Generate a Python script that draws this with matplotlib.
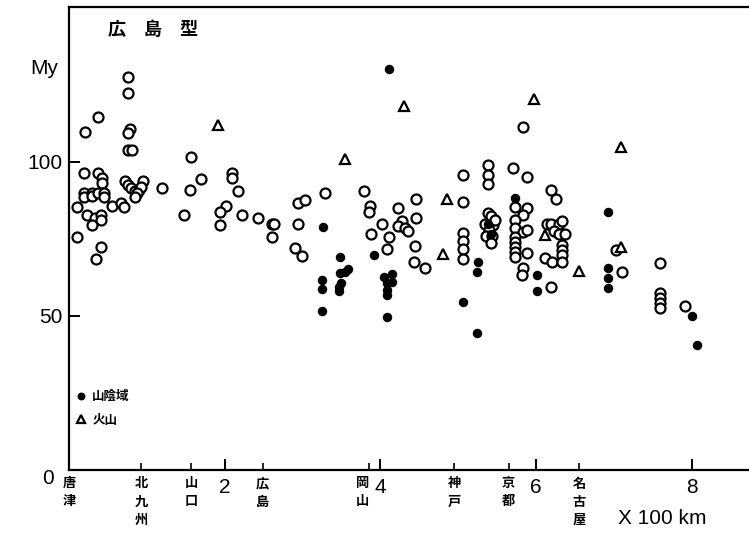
import matplotlib.pyplot as plt

plt.rcParams['font.family'] = ['Liberation Sans', 'Noto Sans CJK JP']

# open circles
open_x = [0.76, 0.76, 0.37, 0.21, 0.78, 0.76, 0.76, 0.81, 1.57,
          0.19, 0.37, 0.42, 0.42, 0.72, 0.95, 1.20, 1.56, 1.70,
          0.19, 0.19, 0.30, 0.30, 0.37, 0.45, 0.45,
          0.76, 0.80, 0.85, 0.90, 0.93, 0.88, 0.85,
          0.10, 0.55, 0.67, 0.71, 0.23, 0.33, 0.41, 0.41, 0.30, 0.10, 0.41, 0.35, 1.48,
          2.10, 2.10, 2.17, 2.02, 1.94, 1.94, 2.22, 2.43, 2.61, 2.63, 2.61,
          2.94, 3.03, 2.94, 2.90, 3.00, 3.29, 3.79, 3.87, 3.86, 4.02, 3.88, 4.11, 4.09,
          4.46, 4.23, 4.28, 4.23, 4.32, 4.36, 4.46, 4.45, 4.43, 4.58,
          5.06, 5.06, 5.06, 5.06, 5.06, 5.06,
          5.39, 5.39, 5.39,
          5.38, 5.42, 5.35, 5.45, 5.40, 5.36, 5.44, 5.42, 5.47,
          5.71, 5.84, 5.89, 6.20, 6.26,
          5.73, 5.89, 5.84, 5.73, 5.73, 5.84, 5.89, 5.73, 5.73, 5.73, 5.73, 5.73,
          5.89, 5.84, 5.82, 6.20, 6.12, 6.21,
          6.14, 6.19, 6.30, 6.34, 6.23, 6.30, 6.37, 6.34, 6.34, 6.34, 6.34,
          7.03, 7.11, 7.60, 7.60, 7.60, 7.60, 7.60, 7.92]
open_y = [127.6, 122.4, 114.6, 109.7, 110.7, 109.4, 103.9, 103.9, 101.6,
          96.4, 96.4, 94.8, 93.2, 93.8, 93.8, 91.6, 90.9, 94.5,
          90.0, 88.5, 90.0, 89.0, 90.0, 90.0, 88.5,
          92.5, 91.5, 90.5, 91.0, 92.0, 90.0, 88.6,
          85.4, 85.7, 86.7, 85.4, 82.8, 81.8, 82.8, 81.2, 79.5, 75.6, 72.4, 68.5, 82.8,
          96.4, 94.8, 90.6, 85.7, 83.8, 79.5, 82.8, 81.8, 79.9, 79.9, 75.6,
          86.7, 87.7, 79.9, 72.1, 69.5, 89.9, 90.6, 85.7, 83.8, 79.9, 76.6, 75.6, 71.8,
          88.0, 85.1, 80.8, 79.2, 78.6, 77.6, 81.8, 72.7, 67.5, 65.6,
          95.8, 87.0, 77.0, 74.4, 71.8, 68.5,
          99.0, 95.8, 92.9,
          83.5, 82.5, 80.0, 79.5, 78.0, 76.0, 76.0, 73.7, 81.0,
          98.1, 111.4, 95.1, 90.9, 88.0,
          85.4, 85.1, 82.8, 81.2, 78.6, 77.3, 77.9, 75.6, 74.0, 72.4, 70.8, 69.2,
          70.5, 65.6, 63.3, 59.4, 68.8, 67.5,
          80.0, 80.0, 80.0, 80.8, 77.5, 76.5, 76.5, 73.0, 71.4, 69.8, 67.5,
          71.4, 64.3, 67.2, 57.5, 55.8, 54.2, 52.6, 53.2]

# filled circles (山陰域)
san_x = [3.26, 3.48, 3.59, 3.55, 3.48, 3.50, 3.47, 3.47, 3.25, 3.25, 3.25,
         3.92, 4.05, 4.09, 4.09, 4.09, 4.15, 4.15, 4.09, 4.11,
         5.06, 5.26, 5.24, 5.24, 5.38, 5.42,
         5.73, 6.02, 6.02, 6.93, 6.93, 6.93, 6.93, 8.01, 8.07]
san_y = [78.9, 69.2, 65.3, 64.3, 64.0, 60.7, 59.4, 58.1, 61.7, 58.8, 51.6,
         69.8, 62.7, 60.7, 58.4, 56.8, 63.5, 61.0, 49.7, 130.2,
         54.5, 67.5, 64.3, 44.5, 80.0, 76.5,
         88.3, 63.3, 58.1, 83.8, 65.6, 62.3, 59.1, 50.0, 40.6]

# triangles (火山)
vol_x = [1.92, 3.55, 4.31, 4.86, 4.81, 5.98, 6.12, 6.56, 7.09, 7.10]
vol_y = [112.0, 101.0, 118.2, 88.0, 70.1, 120.5, 76.3, 64.6, 104.9, 72.4]

num_ticks = [2, 4, 6, 8]
cities = ['唐津', '北九州', '山口', '広島', '岡山', '神戸', '京都', '名古屋']
city_x = [0, 0.93, 1.57, 2.49, 3.86, 4.95, 5.65, 6.56]

fig = plt.figure(figsize=(7.49, 5.36), dpi=100)
ax = fig.add_axes([69/749, 66/536, 691/749, 463/536])

ax.plot(open_x, open_y, 'o', ms=7.2, mfc='white', mec='black', mew=1.6, ls='none')
ax.plot(san_x, san_y, 'o', ms=5.8, color='black', ls='none', label='山陰域')
ax.plot(vol_x, vol_y, '^', ms=6.5, mfc='white', mec='black', mew=1.6, ls='none', label='火山')

ax.set_xlim(0, 8.88)
ax.set_ylim(0, 150.3)

for s in ['left', 'bottom', 'top']:
    ax.spines[s].set_linewidth(1.6)
ax.spines['right'].set_visible(False)

ax.set_yticks([50, 100])
ax.set_yticklabels(['50', '100'], fontsize=15)
ax.tick_params(axis='y', direction='in', length=8, width=1.4, pad=5)

ax.set_xticks(num_ticks)
ax.set_xticklabels([str(t) for t in num_ticks], fontsize=15)
ax.set_xticks(city_x, minor=True)
ax.set_xticklabels(['\n'.join(c) for c in cities], minor=True,
                   fontsize=9.5, fontweight='bold', linespacing=1.65)
ax.tick_params(axis='x', which='major', direction='in', length=8, width=1.4, pad=6)
ax.tick_params(axis='x', which='minor', direction='in', length=5, width=1.2, pad=6)
for lab in ax.get_xticklabels(minor=True):
    lab.set_verticalalignment('top')
    if lab.get_text().startswith('岡'):
        lab.set_horizontalalignment('right')

fig.text(48/749, 1 - 478/536, '0', fontsize=15, ha='center', va='center')
fig.text(30/749, 1 - 68/536, 'My', fontsize=15, ha='left', va='center')
fig.text(662/749, 1 - 519/536, 'X 100 km', fontsize=15, ha='center', va='center')
fig.text(108/749, 1 - 30/536, '広\u3000島\u3000型', fontsize=13, fontweight='bold',
         ha='left', va='center')

ax.legend(loc='upper left', bbox_to_anchor=(-0.008, 0.195), frameon=False,
          prop={'size': 9, 'weight': 'bold'}, handletextpad=0.4, labelspacing=0.9,
          markerscale=0.8, handlelength=1.0)

plt.savefig('out.png', dpi=100)
